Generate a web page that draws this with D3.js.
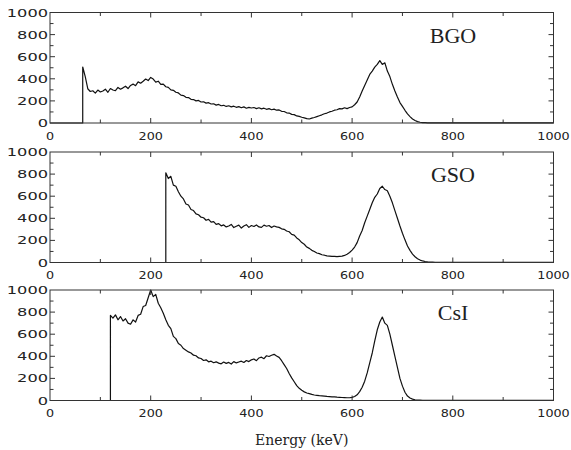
<!DOCTYPE html>
<html>
<head>
<meta charset="utf-8">
<script src="https://cdn.jsdelivr.net/npm/d3@7"></script>
<style>
  body { margin: 0; background: #fff; }
  .tick-label { font-family: "DejaVu Sans", sans-serif; font-size: 11px; fill: #222; }
  .panel-name { font-family: "Liberation Serif", serif; font-size: 22px; fill: #222; }
  .axis-title { font-family: "DejaVu Serif", serif; font-size: 14px; fill: #222; }
</style>
</head>
<body>
<div id="chart"></div>
<script>
// spectra, 5 keV bins, starting at the threshold energy
var binWidth = 5;
var names = ["BGO", "GSO", "CsI"];
var starts = [65, 230, 120];

var bgoCounts = [507, 420, 310, 285, 292, 270, 298, 281, 290, 306, 278, 312, 299, 292, 322, 306, 318, 333, 312, 340,
  352, 338, 372, 360, 378, 398, 384, 412, 398, 370, 378, 350, 352, 328, 322, 300, 296, 278, 272, 252,
  248, 232, 230, 214, 212, 200, 204, 190, 192, 180, 184, 172, 174, 162, 168, 156, 160, 150, 156, 146,
  152, 142, 148, 138, 146, 134, 142, 136, 140, 130, 138, 128, 134, 124, 130, 120, 126, 116, 118, 106,
  104, 92, 90, 78, 76, 64, 60, 52, 46, 40, 36, 44, 50, 58, 66, 74, 84, 90, 100, 106,
  116, 120, 130, 128, 138, 130, 140, 146, 165, 190, 235, 290, 340, 390, 440, 470, 505, 530, 565, 530,
  545, 470, 420, 350, 290, 235, 185, 150, 115, 82, 58, 36, 22, 12, 7, 4, 3, 2, 1, 2, 1, 1, 2, 1, 1, 1, 2, 1];

var gsoCounts = [812, 760, 780, 700, 690, 640, 600, 575, 530, 520, 480, 470, 440, 432, 410, 405, 382, 390, 365, 370,
  345, 352, 332, 340, 322, 330, 345, 316, 328, 338, 312, 330, 342, 318, 335, 326, 340, 322, 318, 338,
  328, 335, 316, 330, 322, 318, 305, 300, 285, 278, 255, 248, 222, 205, 180, 165, 140, 128, 110, 100,
  86, 80, 70, 66, 60, 58, 55, 56, 53, 56, 58, 64, 74, 90, 112, 140, 180, 240, 290, 360,
  420, 480, 540, 590, 620, 670, 690, 660, 650, 600, 540, 470, 400, 330, 265, 205, 150, 110, 76, 52,
  34, 22, 14, 9, 6, 4, 3, 2, 2, 1, 2, 1, 1, 2, 1];

var csiCounts = [770, 745, 775, 730, 760, 720, 740, 700, 690, 730, 710, 770, 780, 850, 860, 930, 1000, 940, 960, 880,
  840, 790, 730, 680, 650, 580, 560, 515, 500, 470, 455, 440, 430, 410, 405, 385, 380, 362, 368, 350,
  356, 342, 350, 338, 332, 348, 336, 345, 330, 352, 340, 348, 356, 344, 362, 352, 368, 376, 360, 385,
  392, 378, 405, 398, 410, 418, 402, 390, 360, 325, 290, 245, 205, 170, 135, 110, 92, 78, 68, 62,
  55, 50, 47, 44, 42, 40, 37, 35, 33, 32, 30, 29, 27, 26, 25, 25, 28, 36, 52, 80,
  120, 175, 250, 340, 430, 540, 640, 710, 755, 700, 680, 600, 500, 400, 300, 200, 130, 75, 40, 22,
  12, 7, 4, 3, 2, 2, 1, 2, 1, 1, 2, 1, 1];

var allCounts = [bgoCounts, gsoCounts, csiCounts];
var xTicks = [0, 200, 400, 600, 800, 1000];
var yTicks = [0, 200, 400, 600, 800, 1000];

var svgwidth = 571;
var svgheight = 450;
var plotLeft = 50, plotRight = 553.5;
var panelTops = [12.5, 152, 290];
var panelHeight = 110.5;

var svg = d3.select("#chart").append("svg").attr("width", svgwidth).attr("height", svgheight);

var x = d3.scaleLinear().domain([0, 1000]).range([plotLeft, plotRight]);

var line = d3.line();

names.forEach(function(name, p) {
    var top = panelTops[p];
    var bottom = top + panelHeight;
    var y = d3.scaleLinear().domain([0, 1000]).range([bottom, top]);
    var g = svg.append("g");

    // spectrum
    var counts = allCounts[p];
    var pts = [[0, 0], [starts[p], 0]];
    counts.forEach(function(c, i) { pts.push([starts[p] + i * binWidth, c]); });
    pts.push([1000, 1]);
    g.append("path")
        .attr("d", line.x(d => x(d[0])).y(d => y(d[1]))(pts))
        .attr("fill", "none")
        .attr("stroke", "#111")
        .attr("stroke-width", 1.2)
        .attr("stroke-linejoin", "round");

    // frame
    g.append("rect")
        .attr("x", plotLeft).attr("y", top)
        .attr("width", plotRight - plotLeft).attr("height", panelHeight)
        .attr("fill", "none").attr("stroke", "#333").attr("stroke-width", 1);

    // inward ticks every 100, longer every 200
    d3.range(100, 1000, 100).forEach(function(v) {
        var len = v % 200 == 0 ? 5 : 3.5;
        g.append("line").attr("x1", x(v)).attr("x2", x(v)).attr("y1", bottom).attr("y2", bottom - len).attr("stroke", "#333");
        g.append("line").attr("x1", x(v)).attr("x2", x(v)).attr("y1", top).attr("y2", top + len).attr("stroke", "#333");
        g.append("line").attr("x1", plotLeft).attr("x2", plotLeft + len).attr("y1", y(v)).attr("y2", y(v)).attr("stroke", "#333");
        g.append("line").attr("x1", plotRight).attr("x2", plotRight - len).attr("y1", y(v)).attr("y2", y(v)).attr("stroke", "#333");
    });

    // tick labels
    g.selectAll(".xl").data(xTicks).enter().append("text")
        .attr("class", "tick-label")
        .attr("x", d => x(d))
        .attr("y", bottom + 16.5)
        .attr("text-anchor", "middle")
        .attr("textLength", d => String(d).length * 8.1)
        .attr("lengthAdjust", "spacingAndGlyphs")
        .text(d => d);

    g.selectAll(".yl").data(yTicks).enter().append("text")
        .attr("class", "tick-label")
        .attr("x", plotLeft - 2)
        .attr("y", d => y(d) + 4)
        .attr("text-anchor", "end")
        .attr("textLength", d => String(d).length * 10.3)
        .attr("lengthAdjust", "spacingAndGlyphs")
        .text(d => d);

    g.append("text")
        .attr("class", "panel-name")
        .attr("x", 453)
        .attr("y", top + 30)
        .attr("text-anchor", "middle")
        .text(name);
});

svg.append("text")
    .attr("class", "axis-title")
    .attr("x", (plotLeft + plotRight) / 2)
    .attr("y", 445)
    .attr("text-anchor", "middle")
    .text("Energy (keV)");
</script>
</body>
</html>
